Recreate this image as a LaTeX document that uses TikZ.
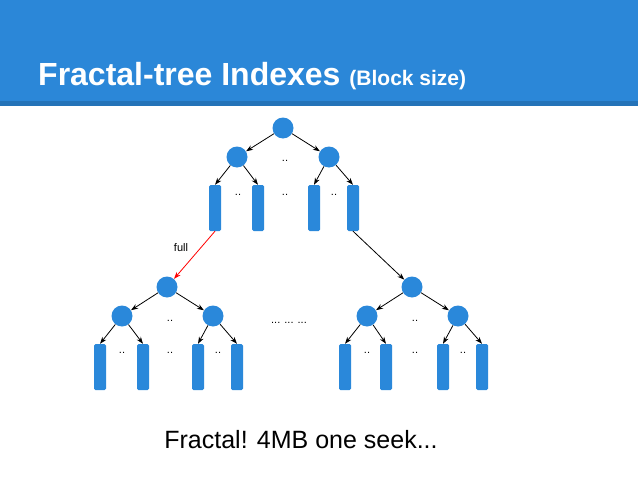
\documentclass[tikz,border=0pt]{standalone}
\usepackage{fontspec}
\setmainfont{Liberation Sans}
\usetikzlibrary{arrows.meta}
\definecolor{hb}{HTML}{2B87D8}
\definecolor{nb}{HTML}{2A88DA}
\begin{document}
\begin{tikzpicture}[x=1pt,y=-1pt,
  circ/.style={circle,fill=nb,minimum size=21pt,inner sep=0pt},
  leaf/.style={rectangle,rounded corners=1.5pt,fill=nb,minimum width=12pt,minimum height=46pt,inner sep=0pt},
  arr/.style={-{Stealth[length=7pt,width=5pt]},thick,black},
  dd/.style={font=\fontsize{11}{11}\selectfont,inner sep=0pt}]
\useasboundingbox (0,0) rectangle (638,479);
\fill[hb] (0,0) rectangle (638,101);
\fill[hb!85!black] (0,101) rectangle (638,106);
\node[anchor=base west,text=white,inner sep=0pt] (t) at (38,85) {\fontsize{32}{32}\selectfont\bfseries Fractal-tree Indexes \fontsize{21}{21}\selectfont (Block size)};
% top tree
\node[circ] (r) at (283,128) {};
\node[circ] (a) at (237,157) {};
\node[circ] (b) at (329,157) {};
\foreach \n/\x in {l1/215,l2/258,l3/314,l4/353}{\node[leaf] (\n) at (\x,208) {};}
\draw[arr] (r) -- (a); \draw[arr] (r) -- (b);
\draw[arr] (a) -- (l1.north); \draw[arr] (a) -- (l2.north);
\draw[arr] (b) -- (l3.north); \draw[arr] (b) -- (l4.north);
\node[dd] (d1) at (285,161) {..};
\node[dd] (d2) at (238,195) {..};
\node[dd] (d3) at (285,195) {..};
\node[dd] (d4) at (334,195) {..};
% bottom left
\node[circ] (p) at (167,287) {};
\node[circ] (pa) at (122,316) {};
\node[circ] (pb) at (213,316) {};
\foreach \n/\x in {m1/100,m2/143,m3/198,m4/237}{\node[leaf] (\n) at (\x,367) {};}
\draw[arr] (p) -- (pa); \draw[arr] (p) -- (pb);
\draw[arr] (pa) -- (m1.north); \draw[arr] (pa) -- (m2.north);
\draw[arr] (pb) -- (m3.north); \draw[arr] (pb) -- (m4.north);
\node[dd] (e1) at (170,321) {..};
\node[dd] (e2) at (122,353) {..};
\node[dd] (e3) at (170,353) {..};
\node[dd] (e4) at (218,353) {..};
% bottom right
\node[circ] (q) at (412,287) {};
\node[circ] (qa) at (367,316) {};
\node[circ] (qb) at (458,316) {};
\foreach \n/\x in {n1/345,n2/386,n3/443,n4/482}{\node[leaf] (\n) at (\x,367) {};}
\draw[arr] (q) -- (qa); \draw[arr] (q) -- (qb);
\draw[arr] (qa) -- (n1.north); \draw[arr] (qa) -- (n2.north);
\draw[arr] (qb) -- (n3.north); \draw[arr] (qb) -- (n4.north);
\node[dd] (f1) at (415,321) {..};
\node[dd] (f2) at (367,353) {..};
\node[dd] (f3) at (415,353) {..};
\node[dd] (f4) at (463,353) {..};
\node[dd] (mid) at (289,323) {... ... ...};
% cross links
\draw[-{Stealth[length=7pt,width=5pt]},thick,red] (l1.south) -- (p);
\node[font=\fontsize{11}{11}\selectfont] (full) at (181,248) {full};
\draw[arr] (l4.south) -- (q);
\node[font=\fontsize{25}{25}\selectfont] (cap) at (301,440) {Fractal! 4MB one seek...};
\end{tikzpicture}
\end{document}
